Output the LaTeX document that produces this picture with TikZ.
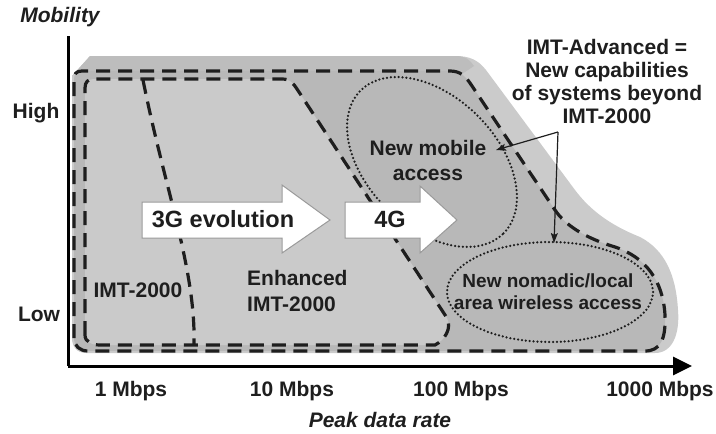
\documentclass[tikz,border=0pt]{standalone}
\usepackage{fontspec}
\setmainfont{Liberation Sans}
\usetikzlibrary{arrows.meta}
\definecolor{txt}{HTML}{1E1E1E}
\definecolor{blobgray}{HTML}{CBCBCB}
\definecolor{topface}{HTML}{BDBDBD}
\definecolor{advgray}{HTML}{B8B8B8}
\definecolor{enhgray}{HTML}{CACACA}
\definecolor{arrowedge}{HTML}{9A9A9A}
\begin{document}
\begin{tikzpicture}[x=1pt,y=-1pt,
  lbl/.style={font=\fontsize{21}{25}\selectfont\bfseries, text=txt, inner sep=0pt},
  ital/.style={font=\fontsize{21}{25}\selectfont\bfseries\itshape, text=txt, inner sep=0pt},
  biglbl/.style={font=\fontsize{23.5}{28}\selectfont\bfseries, text=txt, inner sep=0pt},
  dashline/.style={draw=txt, line width=3.2pt, dash pattern=on 14pt off 8pt},
  dotline/.style={draw=txt, line width=2.5pt, line cap=round, dash pattern=on 0pt off 3.9pt},
  blockarrow/.style={fill=white, draw=arrowedge, line width=1pt, line join=miter},
  callout/.style={draw=txt, line width=1.2pt, -{Stealth[length=10pt,width=7pt,inset=2pt]}},
  axisline/.style={draw=black, line width=3pt}
]
\useasboundingbox (0,0) rectangle (716,434);

% 3D background blob
\fill[blobgray] (72,76) -- (90,56) -- (455,56) .. controls (470,56) and (478,60) .. (486,70)
  -- (575,190) .. controls (590,210) and (610,225) .. (640,237)
  .. controls (665,250) and (676,275) .. (678,310)
  .. controls (680,335) and (672,353) .. (655,353) -- (86,353)
  .. controls (77,353) and (72,347) .. (72,338) -- cycle;
% top face of the blob
\fill[topface] (72,76) -- (90,56) -- (455,56) .. controls (466,56) and (470,60) .. (474,66) -- (462,74) -- (74,74) -- cycle;

% IMT-Advanced outer region
\filldraw[fill=advgray, dashline] (74,338) -- (74,80) .. controls (74,74) and (76,71) .. (82,71)
  -- (450,71) .. controls (460,71) and (465,76) .. (470,83)
  -- (555,210) .. controls (565,225) and (585,238) .. (615,247)
  .. controls (645,257) and (663,280) .. (665,315)
  .. controls (666,340) and (660,351) .. (645,351) -- (88,351)
  .. controls (80,351) and (74,346) .. (74,338) -- cycle;

% Enhanced IMT-2000 region
\filldraw[fill=enhgray, dashline] (85,335) -- (85,88) .. controls (85,82) and (88,79) .. (94,79)
  -- (282,79) .. controls (290,79) and (293,83) .. (297,89)
  -- (447,318) .. controls (452,328) and (445,340) .. (435,345)
  -- (100,345) .. controls (92,345) and (85,342) .. (85,335) -- cycle;

% IMT-2000 boundary
\draw[dashline] (143,80) .. controls (165,190) and (196,270) .. (194,345);

% dotted ellipses
\draw[dotline, rotate around={-45:(432,162)}] (432,162) ellipse [x radius=101pt, y radius=65pt];
\draw[dotline] (550,292) ellipse [x radius=103pt, y radius=50pt];

% block arrows
\filldraw[blockarrow] (142,202) -- (282,202) -- (282,185) -- (330,220) -- (282,253) -- (282,238) -- (142,238) -- cycle;
\filldraw[blockarrow] (345,202) -- (420,202) -- (420,186) -- (457,220) -- (420,253) -- (420,238) -- (345,238) -- cycle;
\node[biglbl, anchor=base] (g3) at (223,227) {3G evolution};
\node[biglbl, anchor=base] (g4) at (390,227) {4G};

% axes
\coordinate (ytop) at (68,36);
\coordinate (O) at (68,366);
\coordinate (xend) at (692,366);
\draw[axisline] (ytop) -- (O);
\draw[axisline, -{Triangle[length=19pt,width=18pt]}] (O) -- (xend);

% axis labels
\node[ital, anchor=base] (mob) at (60,22) {Mobility};
\node[lbl, anchor=base] (high) at (36,118) {High};
\node[lbl, anchor=base] (low) at (39,321) {Low};
\node[lbl, anchor=base] (r1) at (131,396) {1 Mbps};
\node[lbl, anchor=base] (r10) at (292,396) {10 Mbps};
\node[lbl, anchor=base] (r100) at (461,396) {100 Mbps};
\node[lbl, anchor=base] (r1000) at (660,396) {1000 Mbps};
\node[ital, anchor=base] (peak) at (380,427) {Peak data rate};

% region labels
\node[lbl, anchor=base] (imt) at (138,297) {IMT-2000};
\node[lbl, align=left, anchor=west, font=\fontsize{21}{26}\selectfont\bfseries] (enh) at (247,290.5) {Enhanced\\IMT-2000};
\node[lbl, align=center, font=\fontsize{21}{25}\selectfont\bfseries] (nma) at (428,160) {New mobile\\access};
\node[lbl, align=center, font=\fontsize{19}{22}\selectfont\bfseries] (nom) at (548,292) {New nomadic/local\\area wireless access};
\node[lbl, align=center, font=\fontsize{21}{23}\selectfont\bfseries] (adv) at (607,81) {IMT-Advanced =\\New capabilities\\of systems beyond\\IMT-2000};

% callout arrows
\coordinate (v) at (558,132);
\coordinate (ta) at (496,150);
\coordinate (tb) at (554,243);
\draw[callout] (v) -- (ta);
\draw[callout] (v) -- (tb);
\end{tikzpicture}
\end{document}
